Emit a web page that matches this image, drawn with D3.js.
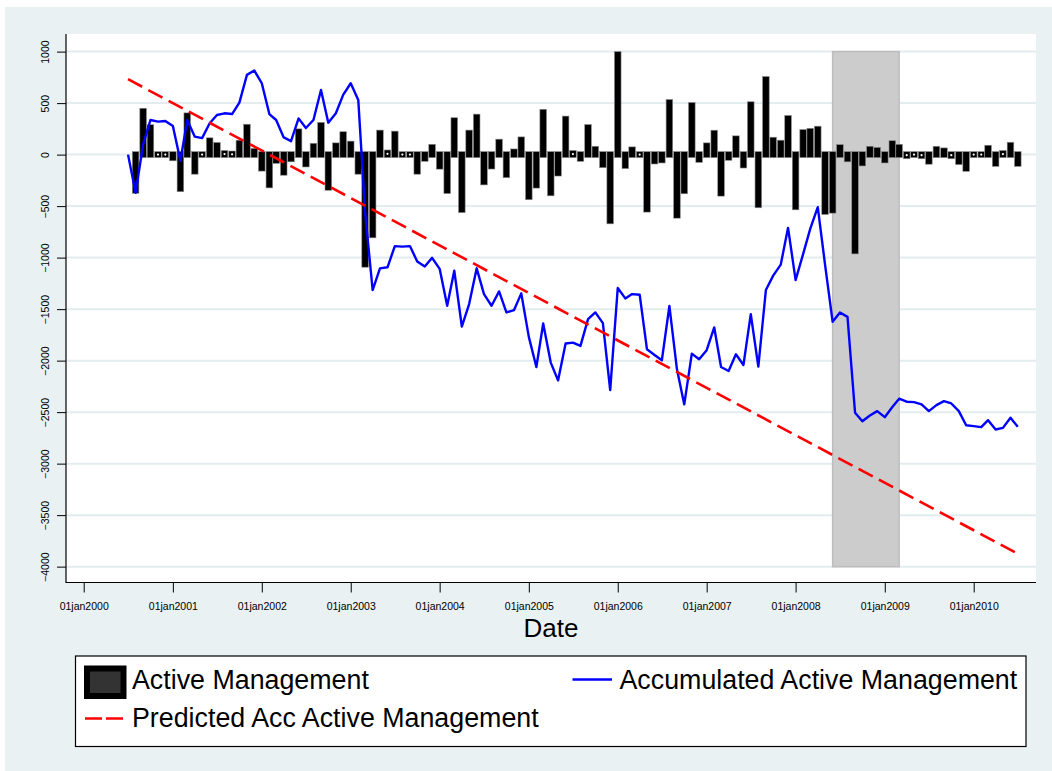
<!DOCTYPE html>
<html>
<head>
<meta charset="utf-8">
<script src="https://d3js.org/d3.v7.min.js"></script>
<style>
  body { margin: 0; background: #fff; }
  svg { display: block; font-family: "Liberation Sans", Arial, sans-serif; }
</style>
</head>
<body>
<div id="chart"></div>
<script>
// Monthly data, first value is Jul 2000, last is Jul 2010
const startMonth = new Date(2000, 6, 1);

// Active Management (bars), first month has no value
const activeMgmt = [
  null, -375, 450, 290, -15, 15, -60, -360, 405, -190, -20, 163,
  118, 40, 35, 140, 295, 60, -160, -323, -85, -200, -70, 250,
  -120, 110, 313, -346, 114, 222, 131, -190, -1093, -808, 238, 45,
  228, -25, -25, -190, -65, 100, -141, -378, 358, -563, 238, 393,
  -294, -140, 150, -224, 55, 172, -438, -325, 440, -400, -208, 374,
  40, -65, 292, 81, -127, -672, 1000, -136, 75, -15, -558, -91,
  -81, 535, -617, -380, 506, -75, 114, 237, -403, -55, 182, -130,
  513, -516, 758, 169, 140, 380, -536, 243, 255, 276, -581, -568,
  97, -70, -964, -110, 81, 70, -81, 135, 100, -40, 25, -40,
  -93, 81, 65, -40, -97, -162, 20, -20, 91, -114, 40, 120,
  -114
];

// Accumulated Active Management (blue line)
const accActive = [
  0, -370, 100, 336, 320, 326, 278, -60, 336, 174, 160, 304,
  385, 401, 394, 505, 774, 817, 693, 394, 336, 167, 131, 352,
  258, 336, 628, 310, 401, 580, 693, 531, -560, -1315, -1104, -1094,
  -888, -893, -888, -1037, -1087, -1002, -1109, -1467, -1127, -1669, -1451, -1104,
  -1354, -1467, -1328, -1532, -1510, -1347, -1769, -2062, -1640, -2019, -2192, -1834,
  -1825, -1857, -1597, -1532, -1636, -2286, -1295, -1396, -1354, -1360, -1890, -1945,
  -1997, -1470, -2084, -2425, -1932, -1987, -1899, -1678, -2062, -2101, -1938, -2042,
  -1549, -2058, -1315, -1175, -1068, -711, -1218, -964, -721, -510, -1070, -1623,
  -1532, -1575, -2506, -2588, -2532, -2490, -2549, -2451, -2370, -2399, -2403, -2425,
  -2490, -2432, -2393, -2416, -2490, -2627, -2636, -2646, -2578, -2669, -2653, -2555,
  -2643
];

// Predicted Acc Active Management (straight trend line, end points)
const predDates = [new Date(2000, 6, 1), new Date(2010, 6, 1)];
const predValues = [732, -3875];

// shaded period
const shadeFrom = new Date(2008, 5, 1);
const shadeTo = new Date(2009, 2, 1);
const shadeTop = 1000;
const shadeBottom = -4000;

const yTicks = [1000, 500, 0, -500, -1000, -1500, -2000, -2500, -3000, -3500, -4000];
const xTickYears = [2000, 2001, 2002, 2003, 2004, 2005, 2006, 2007, 2008, 2009, 2010];

const width = 1052, height = 771;
const plot = { left: 66, right: 1036, top: 34, bottom: 582.5 };

const svg = d3.select("#chart").append("svg")
  .attr("width", width)
  .attr("height", height);

// graph region and plot region
svg.append("rect").attr("x", 5).attr("y", 7).attr("width", width - 5).attr("height", height - 7)
  .attr("fill", "#eaf1f3");
svg.append("rect").attr("x", plot.left).attr("y", plot.top)
  .attr("width", plot.right - plot.left).attr("height", plot.bottom - plot.top)
  .attr("fill", "#fff");

const x = d3.scaleTime()
  .domain([new Date(2000, 0, 1), new Date(2010, 0, 1)])
  .range([83.7, 973.7]);
const y = d3.scaleLinear()
  .domain([-4154, 1171])
  .range([plot.bottom, plot.top]);

const months = activeMgmt.map((_, i) => d3.timeMonth.offset(startMonth, i));

// gridlines
svg.append("g").selectAll("line").data(yTicks).join("line")
  .attr("x1", plot.left).attr("x2", plot.right)
  .attr("y1", d => y(d)).attr("y2", d => y(d))
  .attr("stroke", "#e3ecef").attr("stroke-width", 2);

// shaded period
svg.append("rect")
  .attr("x", x(shadeFrom)).attr("y", y(shadeTop))
  .attr("width", x(shadeTo) - x(shadeFrom))
  .attr("height", y(shadeBottom) - y(shadeTop))
  .attr("fill", "#cccccc").attr("stroke", "#bdbdbd").attr("stroke-width", 1.5);

// bars
const y0 = y(0);
const barW = 6.6;
const bars = months.map((d, i) => ({ date: d, value: activeMgmt[i] })).filter(d => d.value !== null);
const barTop = d => Math.min(y(d.value), y0 - 3);
const barBottom = d => Math.max(y(d.value), y0 + 3);

svg.append("g").selectAll("rect").data(bars).join("rect")
  .attr("x", d => x(d.date) - barW / 2)
  .attr("width", barW)
  .attr("y", barTop)
  .attr("height", d => barBottom(d) - barTop(d))
  .attr("fill", "#000")
  .attr("stroke", "#8a8a8a")
  .attr("stroke-width", 0.6);

// little white specks on near-zero bars
svg.append("g").selectAll("circle").data(bars.filter(d => Math.abs(d.value) <= 50)).join("circle")
  .attr("cx", d => x(d.date))
  .attr("cy", d => (barTop(d) + barBottom(d)) / 2)
  .attr("r", 1.1)
  .attr("fill", "#fff");

// accumulated line
const line = d3.line().x(d => x(d.date)).y(d => y(d.value));
svg.append("path")
  .datum(months.map((d, i) => ({ date: d, value: accActive[i] })))
  .attr("d", line)
  .attr("fill", "none")
  .attr("stroke", "#0000ff")
  .attr("stroke-width", 2.4)
  .attr("stroke-linejoin", "round");

// predicted line
svg.append("path")
  .datum(predDates.map((d, i) => ({ date: d, value: predValues[i] })))
  .attr("d", line)
  .attr("fill", "none")
  .attr("stroke", "#ff0000")
  .attr("stroke-width", 2.6)
  .attr("stroke-dasharray", "16,7");

// y axis
const yAxis = svg.append("g")
  .attr("transform", `translate(${plot.left},0)`)
  .call(d3.axisLeft(y).tickValues(yTicks).tickSize(9).tickSizeOuter(0).tickFormat(d3.format("d")));
yAxis.select(".domain").remove();
yAxis.selectAll("text")
  .attr("transform", "rotate(-90)")
  .attr("x", 0).attr("y", -17.5).attr("dy", 0)
  .attr("text-anchor", "middle")
  .style("font-size", "10.5px")
  .attr("fill", "#000");

// x axis
const xAxis = svg.append("g")
  .attr("transform", `translate(0,${plot.bottom})`)
  .call(d3.axisBottom(x)
    .tickValues(xTickYears.map(yr => new Date(yr, 0, 1)))
    .tickFormat(d => "01jan" + d.getFullYear())
    .tickSize(10).tickSizeOuter(0));
xAxis.select(".domain").remove();
xAxis.selectAll("text")
  .attr("y", 20.5).attr("dy", "0.71em")
  .style("font-size", "10.5px")
  .attr("fill", "#000");

svg.append("line").attr("x1", plot.left).attr("x2", plot.left)
  .attr("y1", plot.top).attr("y2", plot.bottom + 0.5).attr("stroke", "#000").attr("stroke-width", 1.2);
svg.append("line").attr("x1", plot.left).attr("x2", plot.right)
  .attr("y1", plot.bottom).attr("y2", plot.bottom).attr("stroke", "#000").attr("stroke-width", 1.2);

svg.append("text")
  .attr("x", (plot.left + plot.right) / 2).attr("y", 637)
  .attr("text-anchor", "middle")
  .style("font-size", "26px")
  .text("Date");

// legend
const lg = svg.append("g");
lg.append("rect").attr("x", 75.5).attr("y", 656).attr("width", 950.5).attr("height", 90.5)
  .attr("fill", "#fff").attr("stroke", "#000").attr("stroke-width", 1.2);
lg.append("rect").attr("x", 84).attr("y", 665.5).attr("width", 42.5).attr("height", 33.5).attr("fill", "#000");
lg.append("rect").attr("x", 90).attr("y", 671.5).attr("width", 30.5).attr("height", 21.5).attr("fill", "#333");
lg.append("text").attr("x", 132).attr("y", 688.5).style("font-size", "26.8px").text("Active Management");
lg.append("line").attr("x1", 572.5).attr("x2", 612).attr("y1", 679.5).attr("y2", 679.5)
  .attr("stroke", "#0000ff").attr("stroke-width", 2.4);
lg.append("text").attr("x", 619.5).attr("y", 688.5).style("font-size", "26.8px").text("Accumulated Active Management");
lg.append("line").attr("x1", 85).attr("x2", 124).attr("y1", 718.5).attr("y2", 718.5)
  .attr("stroke", "#ff0000").attr("stroke-width", 2.6).attr("stroke-dasharray", "17,4");
lg.append("text").attr("x", 132).attr("y", 727).style("font-size", "26.8px").text("Predicted Acc Active Management");
</script>
</body>
</html>
